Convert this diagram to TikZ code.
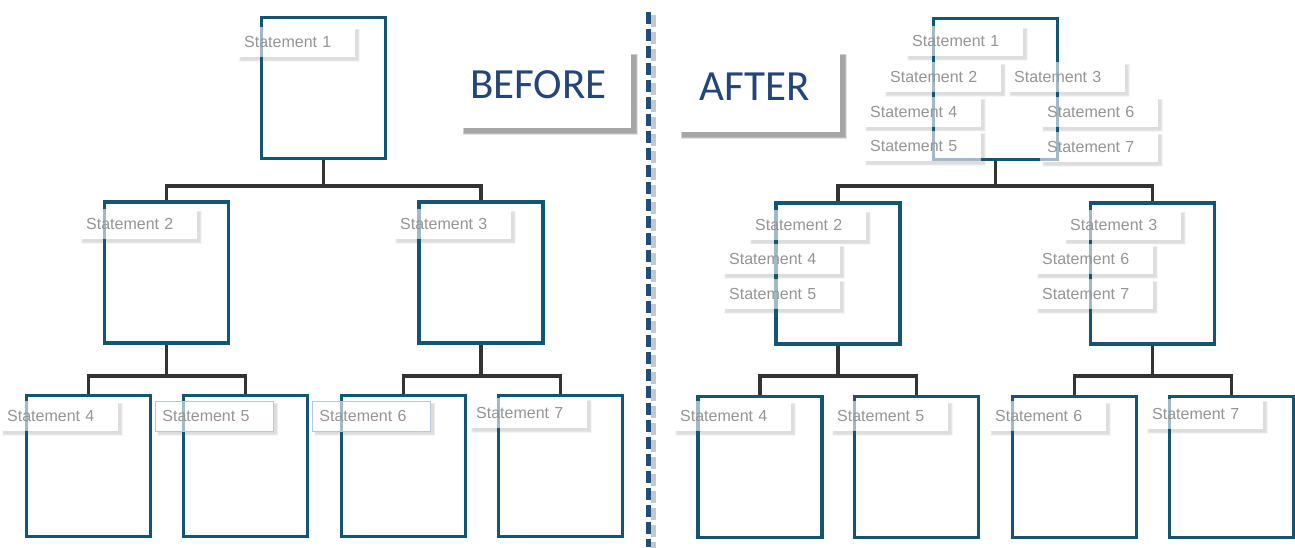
\documentclass[tikz,border=0pt]{standalone}
\usepackage{fontspec}
\setmainfont{Liberation Sans}
\newfontfamily\calib{Carlito}
\definecolor{boxc}{HTML}{135673}
\definecolor{conc}{HTML}{333333}
\definecolor{titc}{HTML}{23457A}
\definecolor{dashc}{HTML}{1F4E79}
\definecolor{lblc}{HTML}{959595}
\definecolor{lbord}{HTML}{B8C8DC}
\pgfdeclarelayer{shl}
\pgfdeclarelayer{whl}
\pgfdeclarelayer{bxl}
\pgfsetlayers{shl,whl,bxl,main}
\tikzset{
  bx/.style={draw=boxc, line width=3.4pt, minimum width=124pt, minimum height=141pt, inner sep=0pt},
  conn/.style={draw=conc, line width=3.8pt},
  lbl/.style={anchor=west, fill=white, fill opacity=0.6, text opacity=1, text=lblc,
     font=\fontsize{16}{18}\selectfont, text width=104pt, align=left, inner xsep=7pt,
     minimum height=30pt, inner ysep=0pt},
  lblb/.style={lbl, draw=lbord, line width=0.8pt, draw opacity=1},
  title/.style={fill=white, inner sep=0pt},
  ttext/.style={text=titc, font=\calib\fontsize{43}{46}\selectfont, inner sep=0pt}
}
\newcommand{\softshadow}[3]{% node, offset, base opacity
  \foreach \g in {0,1,2,3}{
    \fill[black, opacity=#3]
      ([shift={(#2+\g*0.5-1,#2+\g*0.5-1)}]#1.north west) rectangle
      ([shift={(#2-\g*0.5+1.5,#2-\g*0.5+1.5)}]#1.south east);
  }}
\begin{document}
\begin{tikzpicture}[x=1pt,y=-1pt]
\useasboundingbox (0,0) rectangle (1295,547);
% ---------- BEFORE ----------
\begin{pgfonlayer}{bxl}
\node[bx] (t) at (323.5,88) {};
\node[bx] (a) at (166.5,272.5) {};
\node[bx] (b) at (481,272.5) {};
\node[bx] (a1) at (88.5,466) {};
\node[bx] (a2) at (245.5,466) {};
\node[bx] (b1) at (403.5,466) {};
\node[bx] (b2) at (560.5,466) {};
\coordinate (j0) at (323.5,186);
\coordinate (ja) at (166.5,376);
\coordinate (jb) at (481,376);
\draw[conn] (t.south) -- (j0);
\draw[conn] (a.north) |- (j0) -| (b.north);
\draw[conn] (a.south) -- (ja);
\draw[conn] (a1.north) |- (ja) -| (a2.north);
\draw[conn] (b.south) -- (jb);
\draw[conn] (b1.north) |- (jb) -| (b2.north);
\end{pgfonlayer}
\node[lbl] (ls1) at (237,42) {Statement 1};
\node[lbl] (ls2) at (79,224) {Statement 2};
\node[lbl] (ls3) at (393,224) {Statement 3};
\node[lbl] (ls4) at (0,416) {Statement 4};
\node[lblb] (ls5) at (155,416) {Statement 5};
\node[lblb] (ls6) at (312,416) {Statement 6};
\node[lbl] (ls7) at (469,413) {Statement 7};
\node[title, minimum width=172pt, minimum height=78pt] (bef) at (545,89) {};
\node[ttext] (befT) at (538.5,85) {BEFORE};
% ---------- divider ----------
\coordinate (d1) at (648,12);
\coordinate (d2) at (648,547);
\begin{pgfonlayer}{shl}
\draw[black!22, line width=5pt, dash pattern=on 12pt off 5pt] ([shift={(5,3)}]d1) -- ([shift={(5,3)}]d2);
\end{pgfonlayer}
\draw[dashc, line width=5pt, dash pattern=on 12pt off 5pt] (d1) -- (d2);
% ---------- AFTER ----------
\node[title, minimum width=163pt, minimum height=82pt] (aft) at (758.5,91) {};
\node[ttext] (aftT) at (754.5,87) {AFTER};
\begin{pgfonlayer}{bxl}
\node[bx] (T) at (995.5,89) {};
\node[bx] (A) at (838,273.5) {};
\node[bx] (B) at (1152.5,273.5) {};
\node[bx] (A1) at (760,467) {};
\node[bx] (A2) at (916.5,467) {};
\node[bx] (B1) at (1074.5,467) {};
\node[bx] (B2) at (1231.5,467) {};
\coordinate (J0) at (995.5,186);
\coordinate (JA) at (838,376);
\coordinate (JB) at (1152.5,376);
\draw[conn] (T.south) -- (J0);
\draw[conn] (A.north) |- (J0) -| (B.north);
\draw[conn] (A.south) -- (JA);
\draw[conn] (A1.north) |- (JA) -| (A2.north);
\draw[conn] (B.south) -- (JB);
\draw[conn] (B1.north) |- (JB) -| (B2.north);
\end{pgfonlayer}
\node[lbl] (r1) at (905,41) {Statement 1};
\node[lbl] (r2) at (883,77) {Statement 2};
\node[lbl] (r3) at (1007,77) {Statement 3};
\node[lbl] (r4) at (863,112) {Statement 4};
\node[lbl] (r5) at (863,146) {Statement 5};
\node[lbl] (r6) at (1040,112) {Statement 6};
\node[lbl] (r7) at (1040,147) {Statement 7};
\node[lbl] (ra2) at (748,225) {Statement 2};
\node[lbl] (ra4) at (722,259) {Statement 4};
\node[lbl] (ra5) at (722,294) {Statement 5};
\node[lbl] (rb3) at (1063,225) {Statement 3};
\node[lbl] (rb6) at (1035,259) {Statement 6};
\node[lbl] (rb7) at (1035,294) {Statement 7};
\node[lbl] (rc4) at (673,416) {Statement 4};
\node[lbl] (rc5) at (830,416) {Statement 5};
\node[lbl] (rc6) at (988,416) {Statement 6};
\node[lbl] (rc7) at (1145,414) {Statement 7};
% ---------- shadows and white backing ----------
\begin{pgfonlayer}{shl}
\foreach \n in {ls1,ls2,ls3,ls4,ls5,ls6,ls7,r1,r2,r3,r4,r5,r6,r7,ra2,ra4,ra5,rb3,rb6,rb7,rc4,rc5,rc6,rc7}{
  \softshadow{\n}{3}{0.035}
}
\softshadow{bef}{5}{0.1}
\softshadow{aft}{5}{0.1}
\end{pgfonlayer}
\begin{pgfonlayer}{whl}
\foreach \n in {ls1,ls2,ls3,ls4,ls5,ls6,ls7,r1,r2,r3,r4,r5,r6,r7,ra2,ra4,ra5,rb3,rb6,rb7,rc4,rc5,rc6,rc7}{
  \fill[white] (\n.north west) rectangle (\n.south east);
}
\end{pgfonlayer}
\end{tikzpicture}
\end{document}
